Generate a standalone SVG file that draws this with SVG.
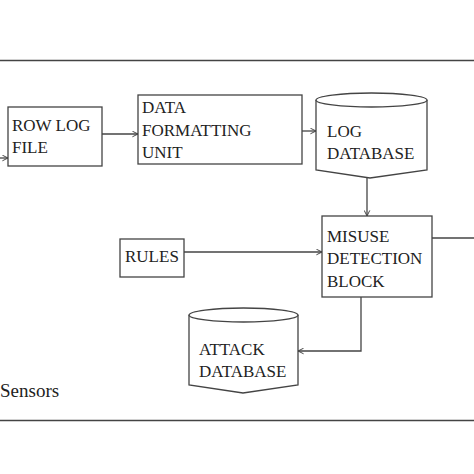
<svg xmlns="http://www.w3.org/2000/svg" width="474" height="474" viewBox="0 0 474 474">
<defs>
<style>
.box{fill:#fff;stroke:#444;stroke-width:1.3}
.ln{fill:none;stroke:#444;stroke-width:1.3}
</style>
<marker id="arr" viewBox="0 0 10 10" refX="9" refY="5" markerWidth="7" markerHeight="7" orient="auto" markerUnits="userSpaceOnUse">
<path d="M1,1 L9,5 L1,9" fill="none" stroke="#444" stroke-width="1.4"/>
</marker>
</defs>
<rect width="474" height="474" fill="#fff"/>
<line x1="0" y1="60.5" x2="474" y2="60.5" class="ln"/>
<line x1="0" y1="420.5" x2="474" y2="420.5" class="ln"/>
<g id="connectors">
<line x1="0" y1="158" x2="8" y2="158" class="ln" marker-end="url(#arr)"/>
<line x1="102" y1="134" x2="138" y2="134" class="ln" marker-end="url(#arr)"/>
<line x1="302" y1="131" x2="316" y2="131" class="ln" marker-end="url(#arr)"/>
<line x1="367" y1="177" x2="367" y2="216" class="ln" marker-end="url(#arr)"/>
<line x1="184" y1="252" x2="322" y2="252" class="ln" marker-end="url(#arr)"/>
<line x1="432" y1="238" x2="474" y2="238" class="ln"/>
<polyline points="361,297 361,351 298,351" class="ln" marker-end="url(#arr)"/>
</g>
<g style="font-family:'Liberation Serif',serif;font-size:17px;fill:#222">
<g id="rowlog">
<rect x="8" y="107" width="94" height="59" class="box"/>
<text x="12" y="131" style="font-family:'Liberation Serif',serif">ROW LOG</text>
<text x="12" y="153" style="font-family:'Liberation Serif',serif">FILE</text>
</g>
<g id="dataformat">
<rect x="138" y="95" width="164" height="69" class="box"/>
<text x="142" y="113" style="font-family:'Liberation Serif',serif">DATA</text>
<text x="142" y="136" style="font-family:'Liberation Serif',serif">FORMATTING</text>
<text x="142" y="158" style="font-family:'Liberation Serif',serif">UNIT</text>
</g>
<g id="logdb">
<path d="M316,100 L316,170 L370,178 L427,170 L427,100" class="box"/>
<ellipse cx="371.5" cy="100" rx="55.5" ry="7" class="box"/>
<text x="327" y="137" style="font-family:'Liberation Serif',serif">LOG</text>
<text x="327" y="159" style="font-family:'Liberation Serif',serif">DATABASE</text>
</g>
<g id="misuse">
<rect x="322" y="216" width="110" height="81" class="box"/>
<text x="327" y="242" style="font-family:'Liberation Serif',serif">MISUSE</text>
<text x="327" y="264" style="font-family:'Liberation Serif',serif">DETECTION</text>
<text x="327" y="287" style="font-family:'Liberation Serif',serif">BLOCK</text>
</g>
<g id="rules">
<rect x="120" y="239" width="64" height="38" class="box"/>
<text x="125" y="262" style="font-family:'Liberation Serif',serif">RULES</text>
</g>
<g id="attackdb">
<path d="M189,315 L189,385 L243,393 L298,385 L298,315" class="box"/>
<ellipse cx="243.5" cy="315" rx="54.5" ry="7" class="box"/>
<text x="199" y="355" style="font-family:'Liberation Serif',serif">ATTACK</text>
<text x="199" y="377" style="font-family:'Liberation Serif',serif">DATABASE</text>
</g>
<text x="0" y="397" style="font-family:'Liberation Serif',serif;font-size:19px">Sensors</text>
</g>
</svg>
